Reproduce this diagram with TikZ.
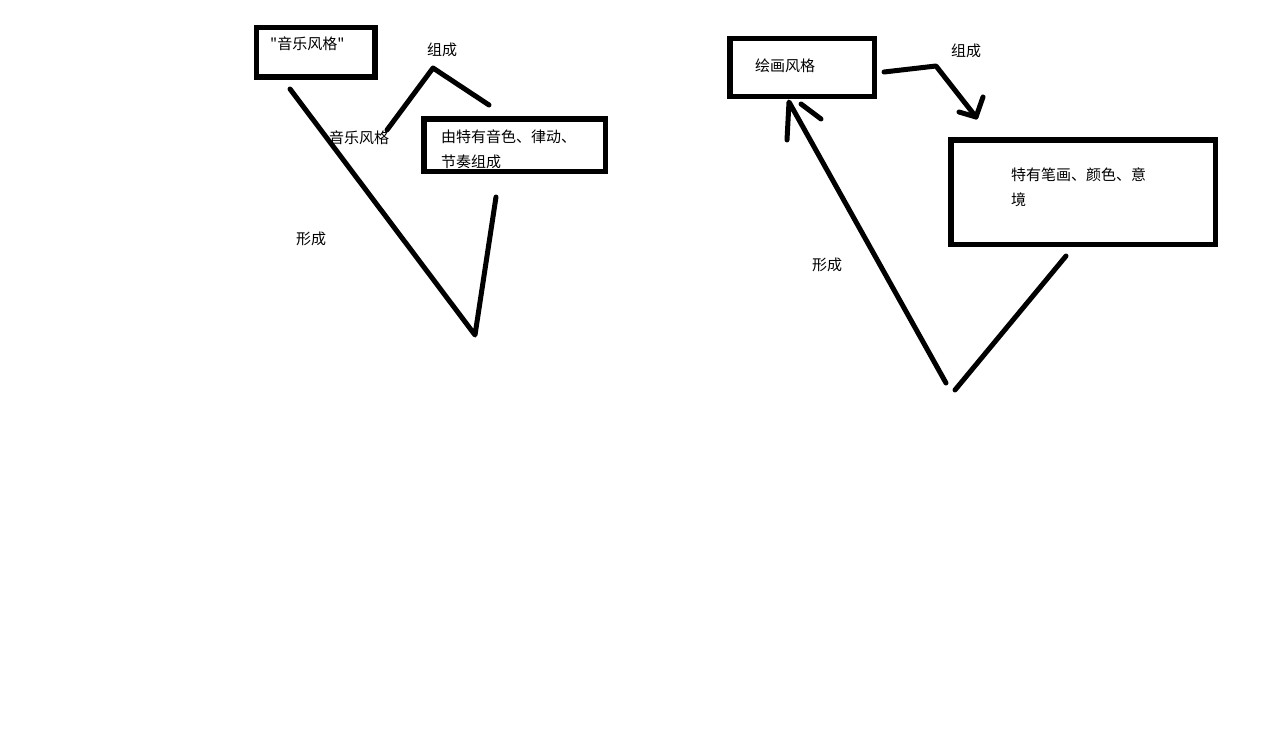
\documentclass[tikz,border=0pt]{standalone}
\usepackage{fontspec}
\newfontfamily\cjk{Noto Sans CJK SC}
\begin{document}
\begin{tikzpicture}[x=1pt,y=-1pt,
  stroke/.style={line width=5pt,line cap=round,line join=round},
  boxline/.style={line width=5.5pt},
  lbl/.style={anchor=west,inner sep=0pt,font=\cjk\fontsize{15}{17}\selectfont}]
\useasboundingbox[fill=white] (0,0) rectangle (1280,744);
% boxes
\draw[boxline] (256.5,27.5) rectangle (375,77);
\draw[boxline] (424,119) rectangle (605.5,171.5);
\draw[boxline] (730,38.5) rectangle (874.5,96.5);
\draw[boxline] (951,140) rectangle (1215.5,244.5);
% texts
\node[lbl] (t1) at (270,44) {"音乐风格"};
\node[lbl] (t2) at (441,137) {由特有音色、律动、};
\node[lbl] (t3) at (441,162) {节奏组成};
\node[lbl] (t4) at (329,138) {音乐风格};
\node[lbl] (t5) at (427,50) {组成};
\node[lbl] (t6) at (296,239) {形成};
\node[lbl] (t7) at (755,66) {绘画风格};
\node[lbl] (t8) at (951,51) {组成};
\node[lbl] (t9) at (812,265) {形成};
\node[lbl] (t10) at (1011,175) {特有笔画、颜色、意};
\node[lbl] (t11) at (1011,200) {境};
% left strokes
\coordinate (a1) at (290,89);
\coordinate (a2) at (475,335);
\coordinate (a3) at (496,197);
\draw[stroke] (a1) -- (a2) -- (a3);
\coordinate (b1) at (387,130);
\coordinate (b2) at (433,68);
\coordinate (b3) at (489,105);
\draw[stroke] (b1) -- (b2) -- (b3);
% right strokes
\coordinate (c1) at (946,383);
\coordinate (c2) at (789,102);
\coordinate (c3) at (787,140);
\coordinate (c4) at (801,104);
\coordinate (c5) at (821,119);
\draw[stroke] (c1) -- (c2) -- (c3);
\draw[stroke] (c4) -- (c5);
\coordinate (d1) at (955,390);
\coordinate (d2) at (1066,256);
\draw[stroke] (d1) -- (d2);
\coordinate (e1) at (884,72);
\coordinate (e2) at (936,66);
\coordinate (e3) at (976,117);
\coordinate (e4) at (959,112);
\coordinate (e5) at (983,97);
\draw[stroke] (e1) -- (e2) -- (e3);
\draw[stroke] (e4) -- (e3) -- (e5);
\end{tikzpicture}
\end{document}
